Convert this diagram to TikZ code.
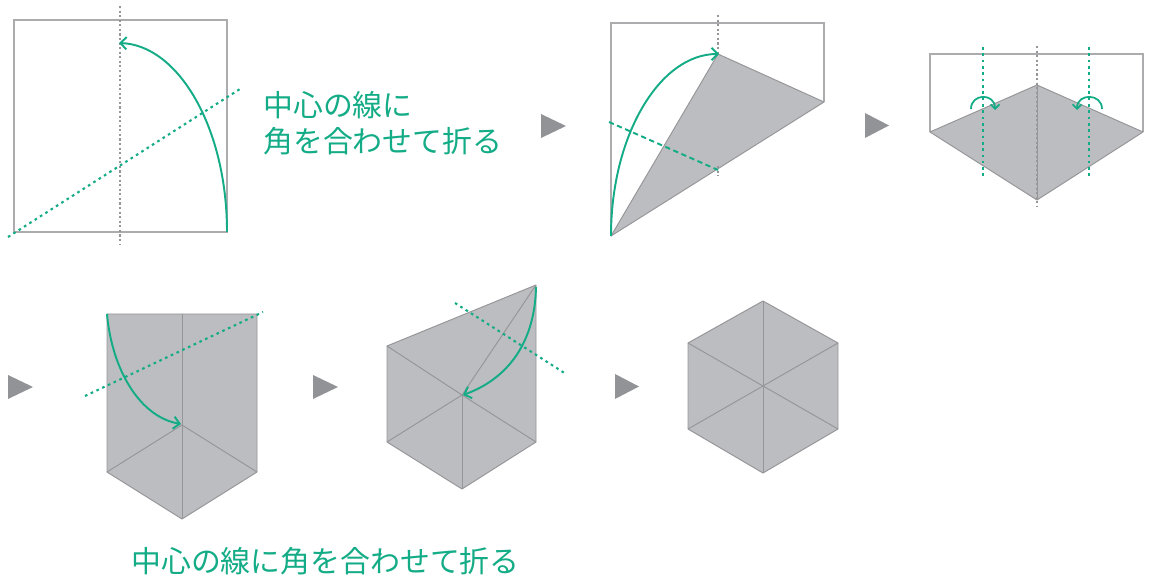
\documentclass[tikz,border=0pt]{standalone}
\usepackage{fontspec}
\newfontfamily\jpfont{Noto Sans CJK JP}
\usetikzlibrary{arrows.meta}
\definecolor{fgreen}{RGB}{20,172,134}
\definecolor{pfill}{RGB}{188,189,192}
\definecolor{pedge}{RGB}{150,150,153}
\definecolor{pframe}{RGB}{172,172,174}
\definecolor{pmark}{RGB}{146,147,150}
\begin{document}
\begin{tikzpicture}[x=0.02cm,y=-0.02cm,
  frameline/.style={draw=pframe,line width=0.85pt},
  facet/.style={fill=pfill,draw=pedge,line width=0.55pt,line join=round},
  crease/.style={draw=pedge,line width=0.55pt},
  greydots/.style={draw=pedge,line width=0.9pt,dash pattern=on 1.2pt off 1.4pt},
  greendots/.style={draw=fgreen,line width=1.2pt,dash pattern=on 1.5pt off 2.1pt},
  greendash/.style={draw=fgreen,line width=1.1pt,dash pattern=on 3pt off 2pt},
  foldarrow/.style={draw=fgreen,line width=1.1pt,-{Straight Barb[length=3.5pt,width=7pt,line width=1.1pt]}},
  smallarrow/.style={draw=fgreen,line width=1pt,-{Straight Barb[length=2.5pt,width=5pt,line width=1pt]}},
  stepmark/.style={fill=pmark,draw=none},
  caption/.style={text=fgreen,font=\jpfont\fontsize{17pt}{20pt}\selectfont,inner sep=0pt,anchor=west}]
\useasboundingbox (0,0) rectangle (1154,577);

% ---------- panel 1 ----------
\draw[frameline] (14,20) rectangle (227,232);
\draw[greydots] (120,6) -- (120,245);
\draw[greendots] (8,237) -- (240,89);
\coordinate (p1s) at (227,232);
\coordinate (p1e) at (119,43);
\draw[foldarrow] (p1s) .. controls (227,127) and (178,45) .. (p1e);
\node[caption] (t1) at (263,105) {中心の線に};
\node[caption] (t2) at (263,141) {角を合わせて折る};

% marker
\fill[stepmark] (541,114) -- (566,126) -- (541,138) -- cycle;

% ---------- panel 2 ----------
\draw[frameline] (611,236) -- (611,23) -- (824,23) -- (824,102);
\draw[facet] (611,236) -- (718,54) -- (824,102) -- cycle;
\draw[greydots] (718,15) -- (718,54);
\draw[greydots] (718,166) -- (718,176);
\draw[greendash] (609,122) -- (718,170);
\coordinate (p2s) at (611,236);
\coordinate (p2e) at (719,54);
\draw[foldarrow] (p2s) .. controls (611,135) and (660,54) .. (p2e);

% marker
\fill[stepmark] (865,113) -- (889,125.5) -- (865,138) -- cycle;

% ---------- panel 3 ----------
\draw[frameline] (930,132) -- (930,54) -- (1143,54) -- (1143,132);
\draw[facet] (930,132) -- (1037,85) -- (1143,132) -- (1037,200) -- cycle;
\draw[greydots] (1037,46) -- (1037,206);
\draw[crease] (1037,85) -- (1037,200);
\draw[greendots] (983,47) -- (983,178);
\draw[greendots] (1089,47) -- (1089,178);
\draw[smallarrow] (971,109) .. controls (971,93) and (995,93) .. (995,110);
\draw[smallarrow] (1102,109) .. controls (1102,93) and (1077,93) .. (1077,110);

% ---------- row 2 markers ----------
\fill[stepmark] (8,375) -- (33,387) -- (8,399) -- cycle;
\fill[stepmark] (313,375) -- (338,387) -- (313,399) -- cycle;
\fill[stepmark] (615,374) -- (639,386.5) -- (615,399) -- cycle;

% ---------- panel 4 ----------
\draw[facet] (107,314) -- (257,314) -- (257,472) -- (182,519) -- (107,472) -- cycle;
\draw[crease] (182,314) -- (182,519);
\draw[crease] (107,472) -- (182,425) -- (257,472);
\draw[greendots] (85,396) -- (263,312);
\coordinate (p4s) at (107,314);
\coordinate (p4e) at (181,424);
\draw[foldarrow] (p4s) .. controls (112,370) and (140,417) .. (p4e);

% ---------- panel 5 ----------
\draw[facet] (387,346) -- (536,285) -- (536,442) -- (462,489) -- (387,442) -- cycle;
\draw[crease] (387,346) -- (462,395) -- (536,442);
\draw[crease] (387,442) -- (462,395) -- (536,285);
\draw[crease] (462,395) -- (462,489);
\draw[greendots] (455,303) -- (566,374);
\coordinate (p5s) at (536,287);
\coordinate (p5e) at (463,395);
\draw[foldarrow] (p5s) .. controls (535,340) and (510,378) .. (p5e);

% ---------- panel 6 ----------
\draw[facet] (763,301) -- (838,343) -- (838,429) -- (763,473) -- (688,429) -- (688,343) -- cycle;
\draw[crease] (763,301) -- (763,473);
\draw[crease] (688,343) -- (838,429);
\draw[crease] (688,429) -- (838,343);

% ---------- bottom caption ----------
\node[caption] (t3) at (131,561) {中心の線に角を合わせて折る};
\end{tikzpicture}
\end{document}
